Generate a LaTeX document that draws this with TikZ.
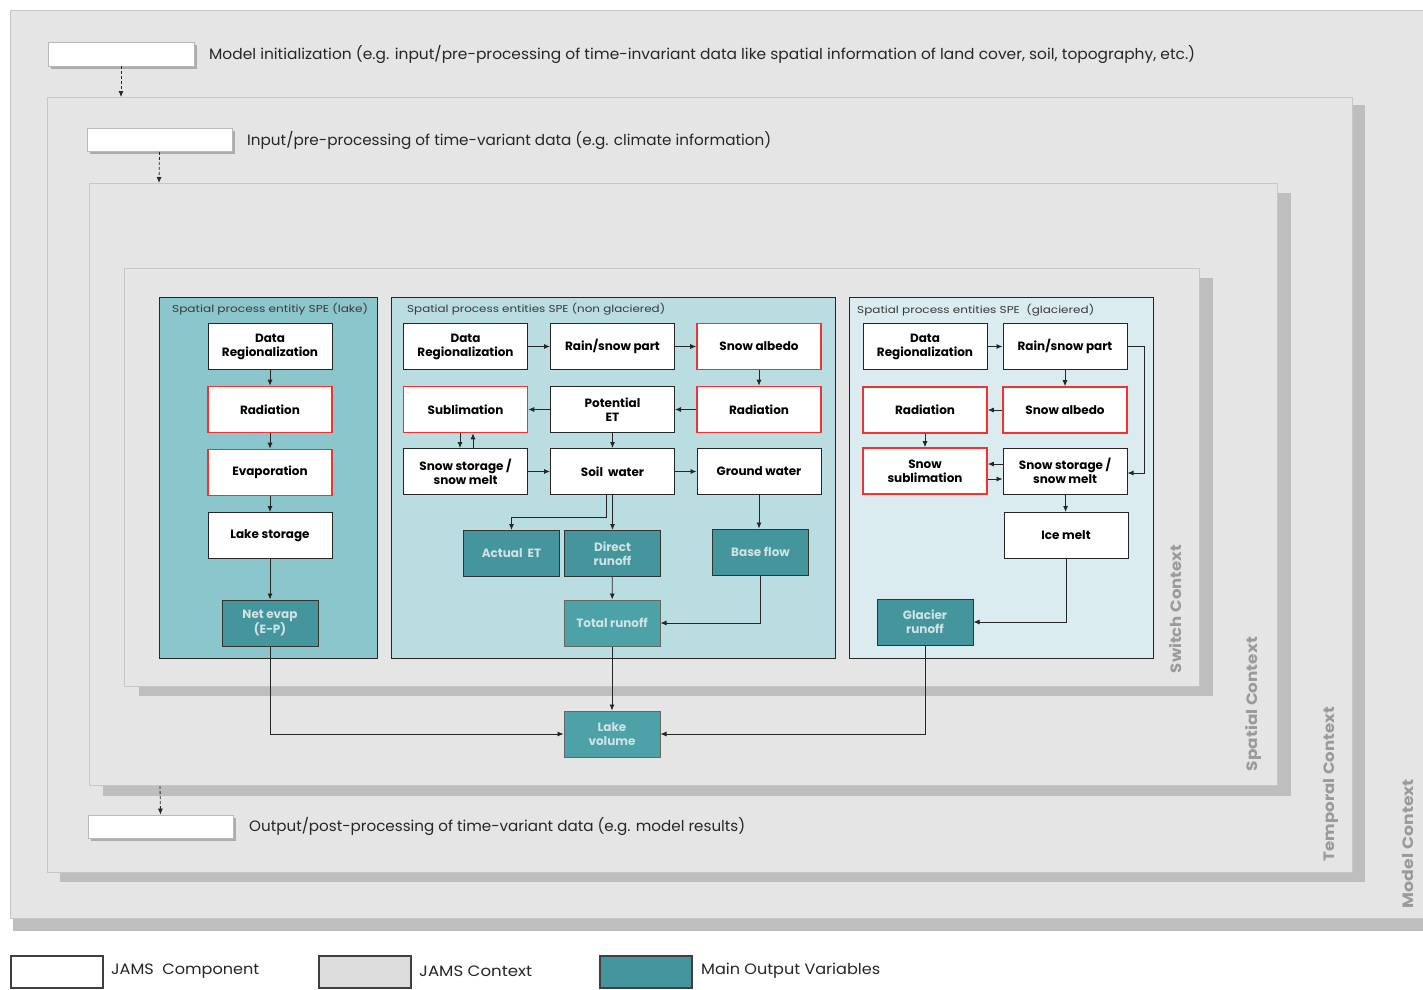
\documentclass[tikz,border=0pt]{standalone}
\usepackage{fontspec}
\setmainfont{Poppins}
\usepackage{graphicx}
\usetikzlibrary{arrows.meta,calc,shadows}
\definecolor{ctxfill}{HTML}{E5E5E5}
\definecolor{ctxline}{HTML}{C6C6C6}
\definecolor{ctxshadow}{HTML}{BEBEBE}
\definecolor{lakefill}{HTML}{8BC6CD}
\definecolor{ngfill}{HTML}{B9DDE1}
\definecolor{glfill}{HTML}{DAECEF}
\definecolor{tealbox}{HTML}{44969C}
\definecolor{tealboxb}{HTML}{4DA2A8}
\definecolor{tealtext}{HTML}{CFE3E5}
\definecolor{redline}{HTML}{EE3333}
\definecolor{ctxlabel}{HTML}{9A9A9A}
\definecolor{legctx}{HTML}{DCDCDC}
\definecolor{titletext}{HTML}{3A3A3A}
\newcommand{\fitw}[2]{\resizebox{#1}{\height}{#2}}
\begin{document}
\begin{tikzpicture}[x=1pt,y=-1pt,
  comp/.style={draw=black!85, fill=white, line width=1pt, minimum width=124pt, minimum height=46pt, align=center, inner sep=0pt, font=\fontsize{12}{14}\selectfont\bfseries},
  redcomp/.style={comp, draw=redline, line width=1.6pt},
  outv/.style={draw=black!80, fill=tealbox, text=tealtext, line width=1pt, minimum width=96pt, minimum height=46pt, align=center, inner sep=0pt, font=\fontsize{12}{14}\selectfont\bfseries},
  outvb/.style={outv, fill=tealboxb, draw=black!60},
  flow/.style={-{Latex[length=6pt,width=5pt]}, line width=0.8pt, draw=black!85},
  dflow/.style={flow, dash pattern=on 3pt off 2pt},
  ctx/.style={draw=ctxline, fill=ctxfill, line width=1pt},
  shad/.style={fill=ctxshadow},
  panel/.style={draw=black!85, line width=1pt},
  wbox/.style={draw=gray!55, fill=white, line width=0.8pt, inner sep=0pt, drop shadow={shadow xshift=2.5pt, shadow yshift=-2.5pt, fill=gray!65, opacity=1}},
  toptext/.style={anchor=west, inner sep=0pt, text=black!85, font=\fontsize{15}{17}\selectfont},
  ptitle/.style={anchor=west, inner sep=0pt, text=titletext, font=\fontsize{10}{12}\selectfont},
  ctxlab/.style={inner sep=0pt, rotate=90, text=ctxlabel, font=\fontsize{15}{17}\selectfont\bfseries},
  legbox/.style={draw=black!75, line width=1.2pt, minimum width=92pt, minimum height=32pt, inner sep=0pt},
  legtext/.style={anchor=west, inner sep=0pt, text=black!85, font=\fontsize{15}{17}\selectfont}
]
\useasboundingbox (0,0) rectangle (1423,989);
\fill[white] (0,0) rectangle (1423,989);

% ---------- contexts ----------
\fill[shad] (13,918) rectangle (1423,931);
\draw[ctx] (10,10) rectangle (1440,918);

\fill[shad] (60,105) rectangle (1365,882);
\draw[ctx] (47,97) rectangle (1352,872);

\fill[shad] (103,193) rectangle (1291,796);
\draw[ctx] (89,183) rectangle (1277,785);

\fill[shad] (139,278) rectangle (1213,696);
\draw[ctx] (124,268) rectangle (1199,686);

\coordinate (tempTop) at (121,97);
\coordinate (spatTop) at (159,183);
\coordinate (spatBot) at (160,786);

% context labels
\node[ctxlab] (lswitch) at (1176,609) {\fitw{128pt}{Switch Context}};
\node[ctxlab] (lspatial) at (1253,704) {\fitw{134pt}{Spatial Context}};
\node[ctxlab] (ltemporal) at (1331,784) {\fitw{154pt}{Temporal Context}};
\node[ctxlab] (lmodel) at (1408,843.5) {\fitw{129pt}{Model Context}};

% ---------- top / bottom components ----------
\node[wbox, minimum width=146pt, minimum height=24pt] (initbox) at (121,54) {};
\node[toptext] (inittext) at (209,54) {\fitw{986pt}{Model initialization (e.g. input/pre-processing of time-invariant data like spatial information of land cover, soil, topography, etc.)}};
\draw[dflow] (initbox.south) -- (tempTop);

\node[wbox, minimum width=145pt, minimum height=23pt] (inbox) at (159.5,140) {};
\node[toptext] (intext) at (247,140) {\fitw{524pt}{Input/pre-processing of time-variant data (e.g. climate information)}};
\draw[dflow] (inbox.south) -- (spatTop);

\node[wbox, minimum width=145pt, minimum height=23pt] (outbox) at (160.5,826.5) {};
\node[toptext] (outtext) at (249,826) {\fitw{496pt}{Output/post-processing of time-variant data (e.g. model results)}};
\draw[dflow] (spatBot) -- (outbox.north);

% ---------- panels ----------
\filldraw[panel, fill=lakefill] (159,297) rectangle (377,658);
\filldraw[panel, fill=ngfill] (391,297) rectangle (835,658);
\filldraw[panel, fill=glfill] (849,297) rectangle (1153,658);

\node[ptitle] (tlake) at (172,309) {\fitw{196pt}{Spatial process entitiy SPE (lake)}};
\node[ptitle] (tng) at (407,309) {\fitw{258pt}{Spatial process entities SPE (non glaciered)}};
\node[ptitle] (tgl) at (857,310) {\fitw{237pt}{Spatial process entities SPE\ \ (glaciered)}};

% ---------- lake SPE ----------
\node[comp] (lDR) at (270,346.5) {Data\\Regionalization};
\node[redcomp] (lRad) at (270,409.5) {Radiation};
\node[redcomp] (lEvap) at (270,472.5) {Evaporation};
\node[comp] (lStore) at (270,535.5) {Lake storage};
\node[outv] (lNet) at (270,623) {Net evap\\(E-P)};
\draw[flow] (lDR) -- (lRad);
\draw[flow] (lRad) -- (lEvap);
\draw[flow] (lEvap) -- (lStore);
\draw[flow] (lStore) -- (lNet);

% ---------- non glaciered SPE ----------
\node[comp] (nDR) at (465.5,346.5) {Data\\Regionalization};
\node[comp] (nRS) at (612.5,346.5) {Rain/snow part};
\node[redcomp] (nSA) at (759,346.5) {Snow albedo};
\node[redcomp] (nSub) at (465.5,409.5) {Sublimation};
\node[comp] (nPET) at (612.5,409.5) {Potential\\ET};
\node[redcomp] (nRad) at (759,409.5) {Radiation};
\node[comp] (nSnow) at (465.5,471.5) {Snow storage /\\snow melt};
\node[comp] (nSoil) at (612.5,471.5) {Soil\ \ water};
\node[comp] (nGW) at (759,471.5) {Ground water};
\node[outv] (nAET) at (511.5,553.5) {Actual\ \ ET};
\node[outv] (nDirect) at (612.5,553.5) {Direct\\runoff};
\node[outv] (nBF) at (760.5,552) {Base flow};
\node[outvb] (nTR) at (612,623) {Total runoff};

\draw[flow] (nDR) -- (nRS);
\draw[flow] (nRS) -- (nSA);
\draw[flow] (nSA) -- (nRad);
\draw[flow] (nRad) -- (nPET);
\draw[flow] (nPET) -- (nSub);
\draw[flow] ([xshift=-5.5pt]nSub.south) -- ([xshift=-5.5pt]nSnow.north);
\draw[flow] ([xshift=7.5pt]nSnow.north) -- ([xshift=7.5pt]nSub.south);
\draw[flow] (nPET) -- (nSoil);
\draw[flow] (nSnow) -- (nSoil);
\draw[flow] (nSoil) -- (nGW);
\draw[flow] ([xshift=-6.5pt]nSoil.south) -- ++(0,22) -| (nAET.north);
\draw[flow] (nSoil.south) -- (nDirect.north);
\draw[flow] (nGW.south) -- (nGW.south |- nBF.north);
\draw[flow] (nDirect) -- (nTR);
\draw[flow] (nBF.south) |- (nTR.east);

% ---------- glaciered SPE ----------
\node[comp] (gDR) at (925,346.5) {Data\\Regionalization};
\node[comp] (gRS) at (1065,346.5) {Rain/snow part};
\node[redcomp] (gRad) at (925,410) {Radiation};
\node[redcomp] (gSA) at (1065,410) {Snow albedo};
\node[redcomp] (gSub) at (925,471) {Snow\\sublimation};
\node[comp] (gSS) at (1065,471) {Snow storage /\\snow melt};
\node[comp] (gIce) at (1066,535.5) {Ice melt};
\node[outv] (gGR) at (925,622) {Glacier\\runoff};

\draw[flow] (gDR) -- (gRS);
\draw[flow] (gRS) -- (gSA);
\draw[flow] (gSA) -- (gRad);
\draw[flow] (gRad) -- (gSub);
\draw[flow] ([yshift=7pt]gSS.west) -- ([yshift=7pt]gSub.east);
\draw[flow] ([yshift=-8pt]gSub.east) -- ([yshift=-8pt]gSS.west);
\draw[flow] (gRS.east) -- ++(17,0) |- ([yshift=-2pt]gSS.east);
\draw[flow] (gSS) -- (gIce);
\draw[flow] (gIce.south) |- (gGR.east);

% ---------- lake volume ----------
\node[outvb] (lakevol) at (612,734) {Lake\\volume};
\draw[flow] (nTR) -- (lakevol);
\draw[flow] (lNet.south) |- (lakevol.west);
\draw[flow] (gGR.south) |- (lakevol.east);

% ---------- legend ----------
\node[legbox, fill=white] (legc) at (57,972) {};
\node[legtext] (legct) at (111,971) {\fitw{148pt}{JAMS\ \ Component}};
\node[legbox, fill=legctx] (legx) at (365,972) {};
\node[legtext] (legxt) at (419,971) {\fitw{113pt}{JAMS Context}};
\node[legbox, fill=tealbox] (lego) at (646,972) {};
\node[legtext] (legot) at (701,971) {\fitw{179pt}{Main Output Variables}};
\end{tikzpicture}
\end{document}
